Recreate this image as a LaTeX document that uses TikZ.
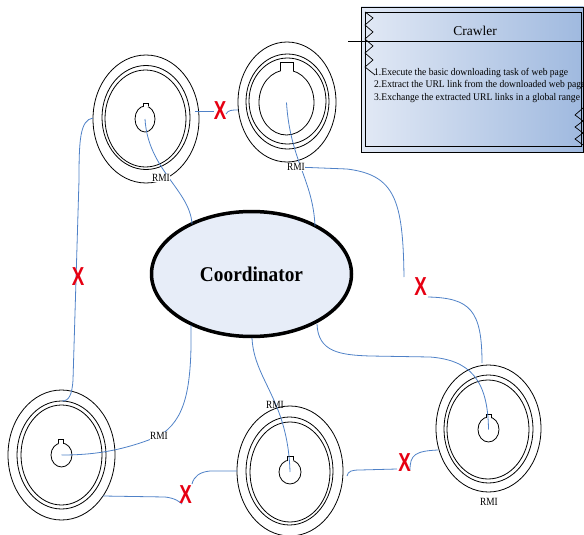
\documentclass[tikz,border=0pt]{standalone}
\usepackage{fontspec}
\setmainfont{Liberation Serif}
\newfontfamily\xfont{Liberation Sans}
\usetikzlibrary{shapes.geometric}
\definecolor{link}{HTML}{4F81C7}
\definecolor{cross}{HTML}{E60012}
\definecolor{coordfill}{HTML}{E7EDF8}
\definecolor{crawlA}{HTML}{E2E9F5}
\definecolor{crawlB}{HTML}{9FB9DF}
\newcommand{\gnotch}[4]{%
  \fill[white] (#1+0.5,#2+0.5) rectangle (#3-0.5,#4+0.8);
  \draw[line width=0.8pt] (#1,#4) -- (#1,#2) -- (#3,#2) -- (#3,#4);}
\begin{document}
\begin{tikzpicture}[x=1pt,y=-1pt,
  ring/.style={draw=black, line width=0.8pt, ellipse, inner sep=0pt, outer sep=0pt},
  hole/.style={ring},
  conn/.style={draw=link, line width=0.8pt},
  rmi/.style={fill=white, inner sep=0.6pt, font=\fontsize{11}{11}\selectfont},
  xmark/.style={text=cross, inner sep=0pt, font=\xfont\bfseries\fontsize{26}{26}\selectfont},
]
\useasboundingbox (0,0) rectangle (584,535);

% ---------- Crawler box ----------
\fill[left color=crawlA, right color=crawlB] (361,7) rectangle (583.5,152);
\draw[line width=0.6pt] (361,7) rectangle (583.5,152);
\draw[line width=1pt] (365,13) rectangle (581.5,146);
\draw[line width=0.8pt] (348,41) -- (584,41);
\node[inner sep=0pt] (crawlT) at (475,31) {\fontsize{13.5}{13.5}\selectfont Crawler};
\node[anchor=north west, inner sep=0pt, align=left,
      font=\fontsize{10.2}{12.5}\selectfont] (crawlX) at (374,68)
  {\scalebox{0.94}[1]{1.Execute the basic downloading task of web page}\\
   \scalebox{0.94}[1]{2.Extract the URL link from the downloaded web page}\\
   \scalebox{0.94}[1]{3.Exchange the extracted URL links in a global range}};
\draw[line width=0.7pt] (365,12) -- (373,18) -- (365,25) -- (373,32) -- (365,39)
  -- (373,46) -- (365,53) -- (373,60) -- (365,67) -- (375,75);
\draw[line width=0.7pt] (583,108) -- (575,115) -- (583,121) -- (575,127)
  -- (583,133) -- (575,139) -- (583,145);

% ---------- Gears ----------
% A
\node[ring, minimum width=106, minimum height=128] (oA) at (146,119) {};
\node[ring, minimum width=88, minimum height=104] (mA) at (146,117.5) {};
\node[ring, minimum width=81, minimum height=97] (iA) at (145.5,118.5) {};
\node[hole, minimum width=20, minimum height=26] (hA) at (145,119) {};
\gnotch{143}{103}{148}{106.3}
% B
\node[ring, minimum width=98, minimum height=120] (oB) at (287,102) {};
\node[ring, minimum width=83, minimum height=95] (mB) at (287.5,101.5) {};
\node[ring, minimum width=77, minimum height=86] (iB) at (287.5,101) {};
\node[hole, minimum width=55, minimum height=65] (hB) at (286.5,102.5) {};
\gnotch{280}{62}{293}{71}
% C
\node[ring, minimum width=107, minimum height=130] (oC) at (61.5,455) {};
\node[ring, minimum width=89, minimum height=108] (mC) at (61.5,455) {};
\node[ring, minimum width=81, minimum height=100] (iC) at (61.5,455) {};
\node[hole, minimum width=21, minimum height=24] (hC) at (61.5,455) {};
\gnotch{58.5}{439.5}{63.5}{443.3}
% D
\node[ring, minimum width=106, minimum height=130] (oD) at (290,471) {};
\node[ring, minimum width=87, minimum height=108] (mD) at (289.5,471) {};
\node[ring, minimum width=80, minimum height=100] (iD) at (290,472) {};
\node[hole, minimum width=22, minimum height=24] (hD) at (290,472) {};
\gnotch{287}{456}{293}{460.3}
% E
\node[ring, minimum width=105, minimum height=127] (oE) at (488.5,428.5) {};
\node[ring, minimum width=89, minimum height=108] (mE) at (488.5,429) {};
\node[ring, minimum width=82, minimum height=99] (iE) at (488,429.5) {};
\node[hole, minimum width=21, minimum height=25] (hE) at (488.5,429.5) {};
\gnotch{486.5}{414}{491}{417.5}

% ---------- Coordinator ----------
\node[ellipse, draw=black, line width=3.5pt, fill=coordfill, inner sep=0pt,
      minimum width=200, minimum height=125] (coord) at (251.5,274)
  {\fontsize{21}{21}\selectfont\bfseries\scalebox{0.92}[1]{Coordinator}};

% ---------- connector end points ----------
\coordinate (aL) at (93,118);
\coordinate (cT) at (62,401);
\coordinate (aR) at (195,111);
\coordinate (bL) at (238,110);
\coordinate (kNW) at (192,224);
\coordinate (kNE) at (315,226);
\coordinate (kSE) at (317,324);
\coordinate (kSW) at (191,325);
\coordinate (kS) at (252,338);
\coordinate (eT) at (482,363);
\coordinate (cR) at (103,496);
\coordinate (dL) at (237,471);
\coordinate (dR) at (347,476);
\coordinate (eL) at (438,450);

% ---------- RMI labels ----------
\coordinate (rApos) at (161,178);
\coordinate (rBpos) at (296,167);
\coordinate (rCpos) at (159,436);
\coordinate (rDpos) at (275,405);
\coordinate (rEpos) at (489,502);

% ---------- connectors ----------
\draw[conn] (aL) .. controls (80,120) and (79,140) .. (79,180) -- (73,380)
  .. controls (72,395) and (69,401) .. (cT);
\draw[conn] (hA.center) .. controls (148,170) and (190,190) .. (kNW);
\draw[conn] (aR) -- (214,111);
\draw[conn] (226,114) .. controls (228,110) and (232,110) .. (bL);
\draw[conn] (hB.center) .. controls (290,160) and (313,180) .. (kNE);
\draw[conn] (rBpos) -- (347,169) .. controls (395,175) and (403,200) .. (404,277);
\draw[conn] (428,297) .. controls (470,298) and (482,310) .. (eT);
\draw[conn] (kSE) .. controls (318,352) and (340,355) .. (370,356) -- (430,357)
  .. controls (470,360) and (488,380) .. (hE.center);
\draw[conn] (kSW) .. controls (192,390) and (185,420) .. (rCpos);
\draw[conn] (rCpos) .. controls (120,452) and (90,455) .. (hC.center);
\draw[conn] (kS) .. controls (254,380) and (288,400) .. (hD.center);
\draw[conn] (cR) -- (165,497) .. controls (175,498) and (180,502) .. (182,504);
\draw[conn] (192,484) .. controls (194,476) and (200,472) .. (210,471) -- (dL);
\draw[conn] (dR) .. controls (348,471) and (352,470) .. (360,470) -- (397,469);
\draw[conn] (410,470) .. controls (410,455) and (415,451) .. (eL);

% labels on top
\node[rmi] (rA) at (rApos) {\scalebox{0.85}[1]{RMI}};
\node[rmi] (rB) at (rBpos) {\scalebox{0.85}[1]{RMI}};
\node[rmi] (rC) at (rCpos) {\scalebox{0.85}[1]{RMI}};
\node[rmi, fill=none] (rD) at (rDpos) {\scalebox{0.85}[1]{RMI}};
\node[rmi] (rE) at (rEpos) {\scalebox{0.85}[1]{RMI}};

% ---------- X marks ----------
\node[xmark] (x1) at (220,111) {\scalebox{0.72}[1]{X}};
\node[xmark] (x2) at (78,277) {\scalebox{0.72}[1]{X}};
\node[xmark] (x3) at (420.5,287) {\scalebox{0.72}[1]{X}};
\node[xmark] (x4) at (185.5,494.5) {\scalebox{0.72}[1]{X}};
\node[xmark] (x5) at (404.5,463) {\scalebox{0.72}[1]{X}};
\end{tikzpicture}
\end{document}
